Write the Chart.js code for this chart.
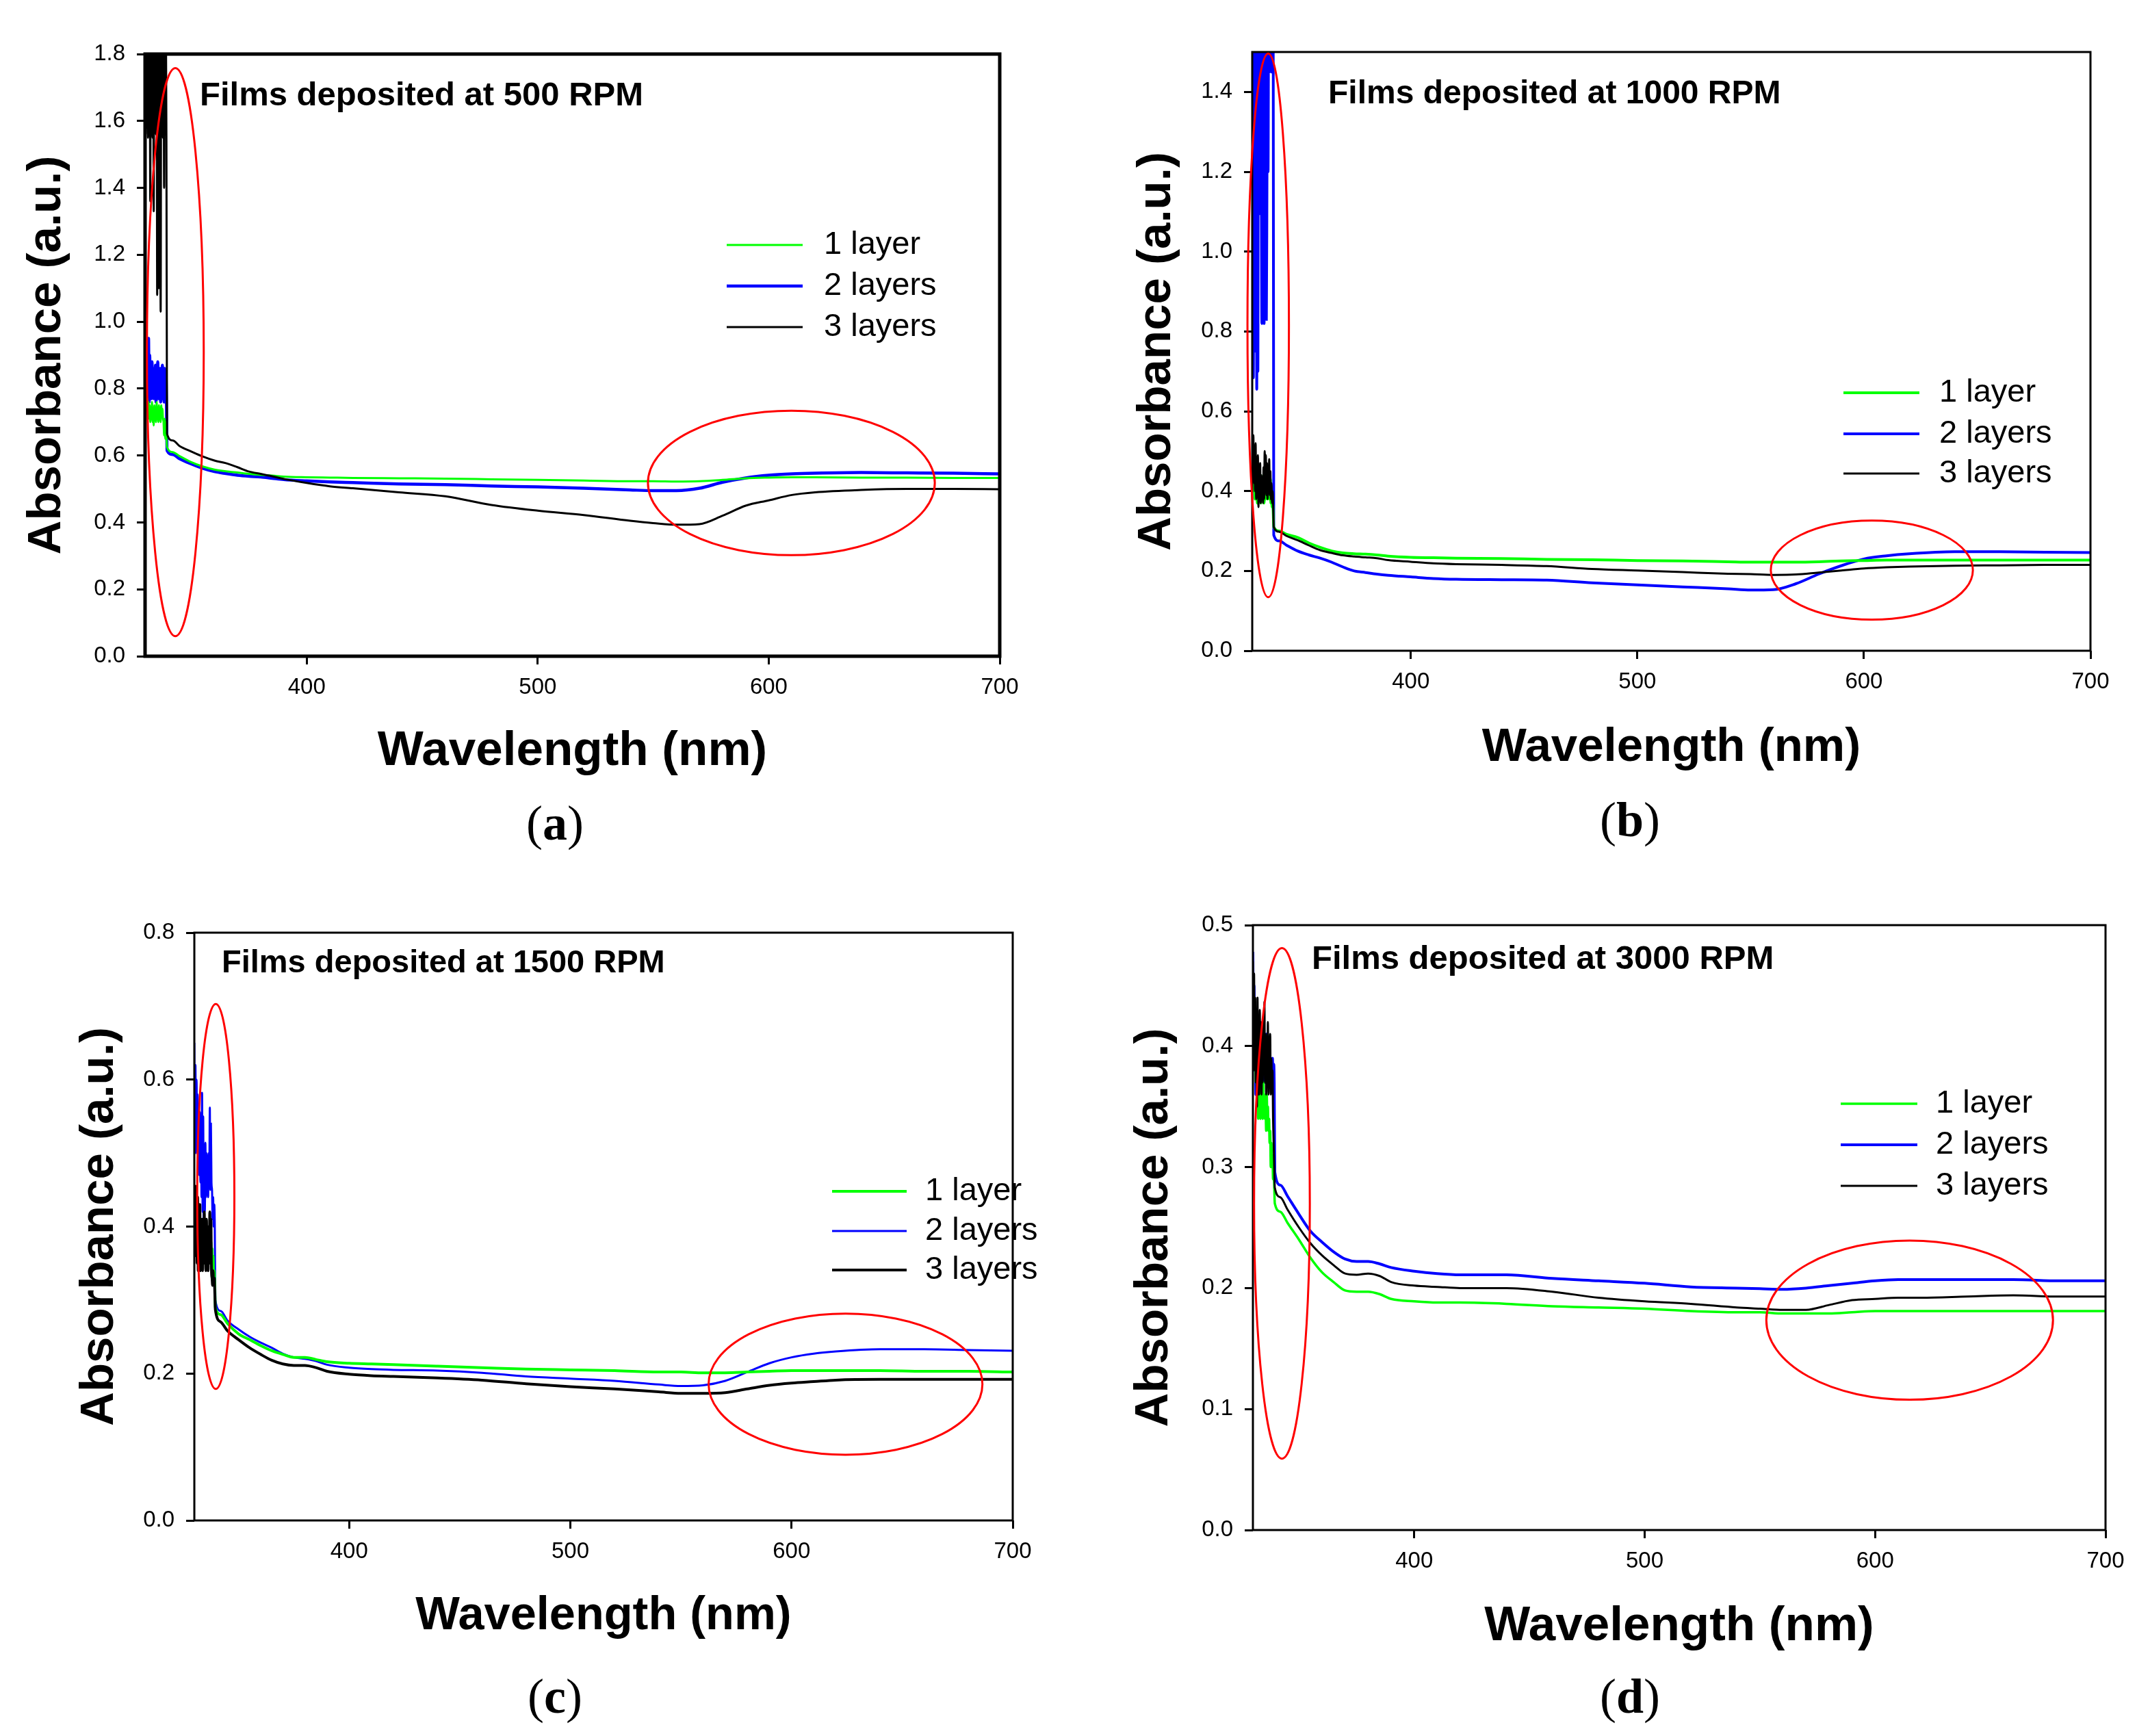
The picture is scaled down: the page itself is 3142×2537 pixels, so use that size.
<!DOCTYPE html>
<html>
<head>
<meta charset="utf-8">
<title>Absorbance of spin-coated films</title>
<script src="https://cdn.jsdelivr.net/npm/chart.js@4.4.1/dist/chart.umd.min.js"></script>
<style>
  html, body { margin: 0; padding: 0; background: #fff; }
  body { width: 3142px; height: 2537px; position: relative; overflow: hidden; }
  canvas { position: absolute; }
  .tag {
    position: absolute;
    font-family: 'Liberation Serif', 'Times New Roman', serif;
    font-size: 72px;
    line-height: 1;
    color: #000;
    transform: translate(-50%, -50%);
  }
  .tag b { font-weight: bold; }
</style>
</head>
<body>
<canvas id="chartA"></canvas>
<canvas id="chartB"></canvas>
<canvas id="chartC"></canvas>
<canvas id="chartD"></canvas>
<div class="tag" style="left:811px; top:1203px">(<b>a</b>)</div>
<div class="tag" style="left:2382px; top:1198px">(<b>b</b>)</div>
<div class="tag" style="left:811px; top:2479px">(<b>c</b>)</div>
<div class="tag" style="left:2382px; top:2479px">(<b>d</b>)</div>

<script>
// wavelength grid (nm), shared by all four panels: noisy UV edge, drop, then the smooth part
const wavelength = [
  330, 330.25, 330.5, 330.75, 331, 331.25, 331.5, 331.75, 332, 332.25, 332.5, 332.75, 333, 333.25, 333.5, 333.75,
  334, 334.25, 334.5, 334.75, 335, 335.25, 335.5, 335.75, 336, 336.25, 336.5, 336.75, 337, 337.25, 337.5, 337.75,
  338, 338.25, 338.5, 338.75, 339, 339.25,
  339.5,
  342, 345, 350, 355, 360, 365, 370, 375, 380, 385, 390, 400, 410, 420, 440, 460,
  480, 500, 520, 540, 550, 560, 570, 580, 590, 600, 610, 620, 640, 660, 680, 700
];

// (a) 500 RPM
const a1 = [
  0.78, 0.74, 0.79, 0.75, 0.77, 0.73, 0.76, 0.71, 0.75, 0.70, 0.74, 0.72, 0.76, 0.70, 0.73, 0.69,
  0.75, 0.71, 0.74, 0.70, 0.76, 0.72, 0.74, 0.70, 0.75, 0.71, 0.73, 0.70, 0.75, 0.72, 0.74, 0.71,
  0.70, 0.66, 0.71, 0.65, 0.70, 0.66,
  0.625,
  0.610, 0.598, 0.580, 0.567, 0.558, 0.553, 0.549, 0.545, 0.542, 0.540, 0.537, 0.535, 0.534, 0.533, 0.532, 0.531,
  0.529, 0.527, 0.525, 0.523, 0.523, 0.522, 0.523, 0.527, 0.532, 0.534, 0.535, 0.535, 0.534, 0.534, 0.533, 0.533
];
const a2 = [
  0.80, 0.97, 0.79, 0.93, 0.82, 0.78, 0.95, 0.76, 0.90, 0.79, 0.84, 0.77, 0.88, 0.78, 0.86, 0.77,
  0.82, 0.79, 0.87, 0.76, 0.85, 0.78, 0.88, 0.77, 0.83, 0.79, 0.86, 0.76, 0.84, 0.78, 0.87, 0.77,
  0.82, 0.76, 0.86, 0.78, 0.85, 0.77,
  0.615,
  0.603, 0.590, 0.575, 0.562, 0.552, 0.546, 0.541, 0.538, 0.536, 0.532, 0.528, 0.524, 0.521, 0.519, 0.515, 0.513,
  0.509, 0.506, 0.502, 0.497, 0.495, 0.495, 0.502, 0.520, 0.533, 0.541, 0.545, 0.547, 0.549, 0.548, 0.547, 0.545
];
const a3 = [
  1.95, 1.56, 1.95, 1.58, 1.95, 1.55, 1.95, 1.60, 1.95, 1.36, 1.95, 1.57, 1.95, 1.55, 1.95, 1.33,
  1.95, 1.58, 1.95, 1.56, 1.95, 1.08, 1.95, 1.55, 1.10, 1.95, 1.56, 1.03, 1.95, 1.57, 1.95, 1.55,
  1.95, 1.40, 1.95, 1.56, 1.95, 1.54,
  0.665,
  0.645, 0.628, 0.612, 0.597, 0.585, 0.577, 0.565, 0.552, 0.545, 0.538, 0.530, 0.518, 0.508, 0.502, 0.490, 0.478,
  0.452, 0.435, 0.422, 0.405, 0.398, 0.393, 0.395, 0.420, 0.450, 0.466, 0.482, 0.490, 0.497, 0.500, 0.500, 0.499
];

// (b) 1000 RPM
const b1 = [
  0.47, 0.42, 0.46, 0.40, 0.44, 0.38, 0.45, 0.39, 0.43, 0.37, 0.42, 0.38, 0.44, 0.39, 0.41, 0.37,
  0.43, 0.38, 0.42, 0.39, 0.44, 0.37, 0.41, 0.38, 0.43, 0.39, 0.42, 0.38, 0.41, 0.40, 0.44, 0.38,
  0.43, 0.37, 0.40, 0.36, 0.37, 0.35,
  0.310,
  0.300, 0.292, 0.284, 0.270, 0.259, 0.250, 0.245, 0.243, 0.242, 0.240, 0.237, 0.234, 0.233, 0.232, 0.231, 0.229,
  0.228, 0.226, 0.225, 0.223, 0.222, 0.222, 0.222, 0.223, 0.225, 0.226, 0.227, 0.227, 0.227, 0.227, 0.227, 0.227
];
const b2 = [
  1.60, 1.20, 0.684, 1.60, 0.75, 1.60, 1.25, 1.60, 0.655, 1.60, 0.70, 1.60, 1.30, 1.60, 1.095, 1.60,
  1.20, 0.82, 1.60, 0.84, 1.60, 0.82, 1.60, 0.85, 1.60, 0.83, 1.16, 1.60, 1.20, 1.60, 1.45, 1.60,
  1.48, 1.60, 1.45, 1.60, 1.60, 1.60,
  0.290,
  0.275, 0.265, 0.250, 0.240, 0.232, 0.222, 0.210, 0.200, 0.196, 0.192, 0.189, 0.185, 0.181, 0.179, 0.178, 0.177,
  0.170, 0.165, 0.160, 0.155, 0.152, 0.153, 0.168, 0.192, 0.213, 0.230, 0.238, 0.243, 0.248, 0.248, 0.247, 0.246
];
const b3 = [
  0.53, 0.45, 0.54, 0.42, 0.50, 0.40, 0.52, 0.38, 0.47, 0.39, 0.49, 0.36, 0.45, 0.38, 0.47, 0.37,
  0.44, 0.39, 0.43, 0.37, 0.46, 0.38, 0.50, 0.40, 0.49, 0.39, 0.47, 0.38, 0.46, 0.40, 0.48, 0.39,
  0.45, 0.38, 0.42, 0.37, 0.40, 0.36,
  0.310,
  0.298, 0.288, 0.277, 0.264, 0.252, 0.245, 0.239, 0.236, 0.234, 0.232, 0.227, 0.223, 0.219, 0.217, 0.215, 0.212,
  0.205, 0.201, 0.197, 0.193, 0.192, 0.190, 0.191, 0.196, 0.201, 0.206, 0.209, 0.211, 0.213, 0.214, 0.215, 0.215
];

// (c) 1500 RPM
const c1 = [
  0.44, 0.41, 0.43, 0.40, 0.42, 0.37, 0.39, 0.35, 0.38, 0.36, 0.39, 0.35, 0.37, 0.345, 0.38, 0.36,
  0.37, 0.35, 0.39, 0.36, 0.38, 0.35, 0.40, 0.36, 0.38, 0.37, 0.39, 0.36, 0.37, 0.35, 0.38, 0.36,
  0.37, 0.34, 0.36, 0.33, 0.34, 0.32,
  0.290,
  0.280, 0.268, 0.254, 0.246, 0.238, 0.231, 0.226, 0.222, 0.222, 0.219, 0.216, 0.214, 0.213, 0.212, 0.210, 0.208,
  0.206, 0.205, 0.204, 0.202, 0.202, 0.201, 0.201, 0.202, 0.203, 0.204, 0.204, 0.204, 0.204, 0.203, 0.203, 0.202
];
const c2 = [
  0.65, 0.52, 0.62, 0.50, 0.60, 0.51, 0.58, 0.49, 0.55, 0.47, 0.556, 0.46, 0.52, 0.44, 0.582, 0.42,
  0.55, 0.40, 0.50, 0.42, 0.514, 0.44, 0.50, 0.45, 0.48, 0.44, 0.50, 0.46, 0.562, 0.45, 0.54, 0.46,
  0.45, 0.41, 0.44, 0.40, 0.43, 0.40,
  0.300,
  0.285, 0.272, 0.260, 0.250, 0.242, 0.235, 0.227, 0.222, 0.220, 0.217, 0.212, 0.208, 0.206, 0.205, 0.204, 0.201,
  0.196, 0.193, 0.190, 0.185, 0.183, 0.184, 0.190, 0.202, 0.214, 0.222, 0.227, 0.230, 0.233, 0.233, 0.232, 0.231
];
const c3 = [
  0.43, 0.37, 0.455, 0.36, 0.42, 0.35, 0.44, 0.34, 0.40, 0.35, 0.43, 0.34, 0.39, 0.36, 0.41, 0.34,
  0.40, 0.35, 0.42, 0.36, 0.38, 0.34, 0.41, 0.35, 0.39, 0.34, 0.40, 0.36, 0.42, 0.35, 0.41, 0.34,
  0.33, 0.32, 0.34, 0.32, 0.33, 0.31,
  0.287,
  0.270, 0.258, 0.246, 0.235, 0.226, 0.218, 0.213, 0.211, 0.211, 0.208, 0.203, 0.199, 0.197, 0.196, 0.194, 0.191,
  0.186, 0.182, 0.179, 0.175, 0.173, 0.173, 0.174, 0.179, 0.184, 0.187, 0.189, 0.191, 0.192, 0.192, 0.192, 0.192
];

// (d) 3000 RPM
const d1 = [
  0.40, 0.39, 0.41, 0.38, 0.40, 0.37, 0.39, 0.36, 0.38, 0.34, 0.37, 0.35, 0.36, 0.34, 0.37, 0.345,
  0.36, 0.34, 0.37, 0.35, 0.36, 0.34, 0.35, 0.33, 0.36, 0.34, 0.35, 0.33, 0.34, 0.32, 0.33, 0.30,
  0.32, 0.30, 0.31, 0.29, 0.30, 0.285,
  0.270,
  0.263, 0.254, 0.240, 0.225, 0.213, 0.205, 0.198, 0.197, 0.197, 0.195, 0.191, 0.189, 0.188, 0.188, 0.187, 0.185,
  0.184, 0.183, 0.181, 0.180, 0.180, 0.179, 0.179, 0.179, 0.180, 0.181, 0.181, 0.181, 0.181, 0.181, 0.181, 0.181
];
const d2 = [
  0.478, 0.40, 0.45, 0.38, 0.43, 0.36, 0.41, 0.37, 0.40, 0.36, 0.41, 0.37, 0.418, 0.36, 0.40, 0.37,
  0.41, 0.36, 0.40, 0.38, 0.41, 0.37, 0.40, 0.38, 0.41, 0.37, 0.39, 0.38, 0.40, 0.37, 0.39, 0.37,
  0.385, 0.37, 0.39, 0.37, 0.385, 0.37,
  0.296,
  0.285, 0.276, 0.261, 0.247, 0.238, 0.230, 0.224, 0.222, 0.222, 0.220, 0.217, 0.214, 0.212, 0.211, 0.211, 0.208,
  0.206, 0.204, 0.201, 0.200, 0.1995, 0.199, 0.200, 0.202, 0.204, 0.206, 0.207, 0.207, 0.207, 0.207, 0.206, 0.206
];
const d3 = [
  0.47, 0.39, 0.46, 0.38, 0.44, 0.37, 0.42, 0.35, 0.44, 0.36, 0.41, 0.36, 0.43, 0.37, 0.42, 0.36,
  0.40, 0.37, 0.42, 0.38, 0.437, 0.37, 0.41, 0.36, 0.40, 0.37, 0.42, 0.36, 0.40, 0.37, 0.41, 0.36,
  0.39, 0.37, 0.38, 0.34, 0.32, 0.30,
  0.283,
  0.275, 0.265, 0.250, 0.237, 0.227, 0.219, 0.212, 0.211, 0.212, 0.210, 0.205, 0.202, 0.201, 0.200, 0.200, 0.197,
  0.192, 0.189, 0.187, 0.184, 0.183, 0.182, 0.182, 0.186, 0.190, 0.191, 0.192, 0.192, 0.193, 0.194, 0.193, 0.193
];

const seriesNames = ["1 layer", "2 layers", "3 layers"];
const xTicks = [400, 500, 600, 700];
const yTicksA = [0, 0.2, 0.4, 0.6, 0.8, 1.0, 1.2, 1.4, 1.6, 1.8];
const yTicksB = [0, 0.2, 0.4, 0.6, 0.8, 1.0, 1.2, 1.4];
const yTicksC = [0, 0.2, 0.4, 0.6, 0.8];
const yTicksD = [0, 0.1, 0.2, 0.3, 0.4, 0.5];

// red ellipses in data units: [centre nm, centre abs, half-width nm, half-height abs]
const ellipsesA = [[343.1, 0.909, 12.3, 0.849], [609.8, 0.518, 62.1, 0.216]];
const ellipsesB = [[337.05, 0.815, 9.15, 0.681], [603.5, 0.202, 44.6, 0.124]];
const ellipsesC = [[339.7, 0.441, 8.4, 0.262], [624.4, 0.1855, 61.9, 0.096]];
const ellipsesD = [[342.6, 0.270, 12.1, 0.211], [615.0, 0.1735, 62.2, 0.0658]];

const FONT = "'Liberation Sans', Arial, Helvetica, sans-serif";
Chart.defaults.font.family = FONT;
Chart.defaults.color = "#000";

// draws the box frame, the note, the red ellipses and the in-plot legend
const panelDecor = {
  id: "panelDecor",
  afterDraw(chart, args, opts) {
    const ctx = chart.ctx;
    const area = chart.chartArea;
    const xs = chart.scales.x, ys = chart.scales.y;
    ctx.save();

    ctx.strokeStyle = "#000";
    ctx.lineWidth = opts.frame;
    ctx.strokeRect(area.left, area.top, area.right - area.left, area.bottom - area.top);

    ctx.strokeStyle = "#ff0000";
    ctx.lineWidth = 3;
    opts.ellipses.forEach(e => {
      const px = xs.getPixelForValue(e[0]);
      const py = ys.getPixelForValue(e[1]);
      const rx = xs.getPixelForValue(e[0] + e[2]) - px;
      const ry = py - ys.getPixelForValue(e[1] + e[3]);
      ctx.beginPath();
      ctx.ellipse(px, py, rx, ry, 0, 0, Math.PI * 2);
      ctx.stroke();
    });

    ctx.fillStyle = "#000";
    ctx.textBaseline = "middle";
    ctx.textAlign = "left";
    ctx.font = "bold " + opts.noteSize + "px " + FONT;
    ctx.fillText(opts.note, area.left + opts.noteDx, area.top + opts.noteDy);

    ctx.font = "47px " + FONT;
    chart.data.datasets.forEach((ds, i) => {
      const y = opts.legend.rows[i];
      ctx.strokeStyle = ds.borderColor;
      ctx.lineWidth = ds.borderWidth;
      ctx.beginPath();
      ctx.moveTo(opts.legend.x1, y);
      ctx.lineTo(opts.legend.x2, y);
      ctx.stroke();
      ctx.fillText(ds.label, opts.legend.tx, y);
    });
    ctx.restore();
  }
};

function makePanel(p) {
  const canvas = document.getElementById(p.id);
  canvas.width = p.w;
  canvas.height = p.h;
  canvas.style.left = p.left + "px";
  canvas.style.top = p.top + "px";
  canvas.style.width = p.w + "px";
  canvas.style.height = p.h + "px";

  const colors = ["#00ff00", "#0000ff", "#000000"];
  const datasets = p.series.map((vals, i) => ({
    label: seriesNames[i],
    data: wavelength.map((w, j) => ({ x: w, y: vals[j] })),
    borderColor: colors[i],
    borderWidth: p.widths[i],
    pointRadius: 0,
    cubicInterpolationMode: "monotone",
    fill: false,
    order: [1, 2, 0][i]
  }));

  const tickGrid = {
    display: true,
    drawOnChartArea: false,
    drawTicks: true,
    tickLength: 12,
    tickWidth: 3,
    lineWidth: 3,
    color: "#000"
  };

  new Chart(canvas, {
    type: "line",
    data: { datasets },
    plugins: [panelDecor],
    options: {
      responsive: false,
      devicePixelRatio: 1,
      animation: false,
      layout: { padding: { left: 0, top: p.padTop, right: p.padRight, bottom: 0 } },
      plugins: {
        legend: { display: false },
        tooltip: { enabled: false },
        panelDecor: {
          frame: p.frame,
          note: p.note,
          noteSize: p.noteSize,
          noteDx: p.noteDx,
          noteDy: p.noteDy,
          ellipses: p.ellipses,
          legend: p.legend
        }
      },
      scales: {
        x: {
          type: "linear",
          min: 330,
          max: 700,
          border: { display: false },
          grid: tickGrid,
          afterBuildTicks: s => { s.ticks = xTicks.map(v => ({ value: v })); },
          afterFit: s => { s.height = p.xHeight; },
          ticks: {
            font: { size: 33 },
            color: "#000",
            padding: 14,
            maxRotation: 0,
            autoSkip: false,
            callback: v => String(v)
          },
          title: {
            display: true,
            text: "Wavelength (nm)",
            color: "#000",
            font: { size: p.xTitleSize, weight: "bold" },
            padding: { top: 0, bottom: p.xTitlePad }
          }
        },
        y: {
          type: "linear",
          min: 0,
          max: p.yMax,
          border: { display: false },
          grid: tickGrid,
          afterBuildTicks: s => { s.ticks = p.yTicks.map(v => ({ value: v })); },
          afterFit: s => { s.width = p.yWidth; },
          ticks: {
            font: { size: 33 },
            color: "#000",
            padding: 17,
            autoSkip: false,
            callback: v => Number(v).toFixed(1)
          },
          title: {
            display: true,
            text: "Absorbance (a.u.)",
            color: "#000",
            font: { size: 69, weight: "bold" },
            padding: { top: p.yTitlePad, bottom: 0 }
          }
        }
      }
    }
  });
}

makePanel({
  id: "chartA", left: 0, top: 0, w: 1560, h: 1160,
  padTop: 79, padRight: 99, yWidth: 212, xHeight: 201, yTitlePad: 28, xTitlePad: 19, xTitleSize: 71,
  yMax: 1.8, yTicks: yTicksA, frame: 5,
  series: [a1, a2, a3], widths: [3, 4.5, 3],
  note: "Films deposited at 500 RPM", noteSize: 49, noteDx: 80, noteDy: 61,
  ellipses: ellipsesA,
  legend: { x1: 1062, x2: 1173, tx: 1204, rows: [358, 418, 478] }
});

makePanel({
  id: "chartB", left: 1600, top: 0, w: 1542, h: 1160,
  padTop: 76, padRight: 87, yWidth: 230, xHeight: 209, yTitlePad: 50, xTitlePad: 26, xTitleSize: 69,
  yMax: 1.5, yTicks: yTicksB, frame: 3,
  series: [b1, b2, b3], widths: [4, 4, 3],
  note: "Films deposited at 1000 RPM", noteSize: 48, noteDx: 111, noteDy: 62,
  ellipses: ellipsesB,
  legend: { x1: 1094, x2: 1205, tx: 1234, rows: [574, 634, 692] }
});

makePanel({
  id: "chartC", left: 0, top: 1270, w: 1560, h: 1150,
  padTop: 93, padRight: 80, yWidth: 284, xHeight: 198, yTitlePad: 105, xTitlePad: 17, xTitleSize: 68.5,
  yMax: 0.8, yTicks: yTicksC, frame: 3,
  series: [c1, c2, c3], widths: [4, 3, 4],
  note: "Films deposited at 1500 RPM", noteSize: 47, noteDx: 40, noteDy: 45,
  ellipses: ellipsesC,
  legend: { x1: 1216, x2: 1325, tx: 1352, rows: [471, 529, 586] }
});

makePanel({
  id: "chartD", left: 1600, top: 1270, w: 1542, h: 1160,
  padTop: 82, padRight: 65, yWidth: 231, xHeight: 194, yTitlePad: 46, xTitlePad: 10, xTitleSize: 71,
  yMax: 0.5, yTicks: yTicksD, frame: 3,
  series: [d1, d2, d3], widths: [3.5, 4, 3],
  note: "Films deposited at 3000 RPM", noteSize: 49, noteDx: 86, noteDy: 50,
  ellipses: ellipsesD,
  legend: { x1: 1090, x2: 1202, tx: 1229, rows: [343, 403, 463] }
});
</script>
</body>
</html>
